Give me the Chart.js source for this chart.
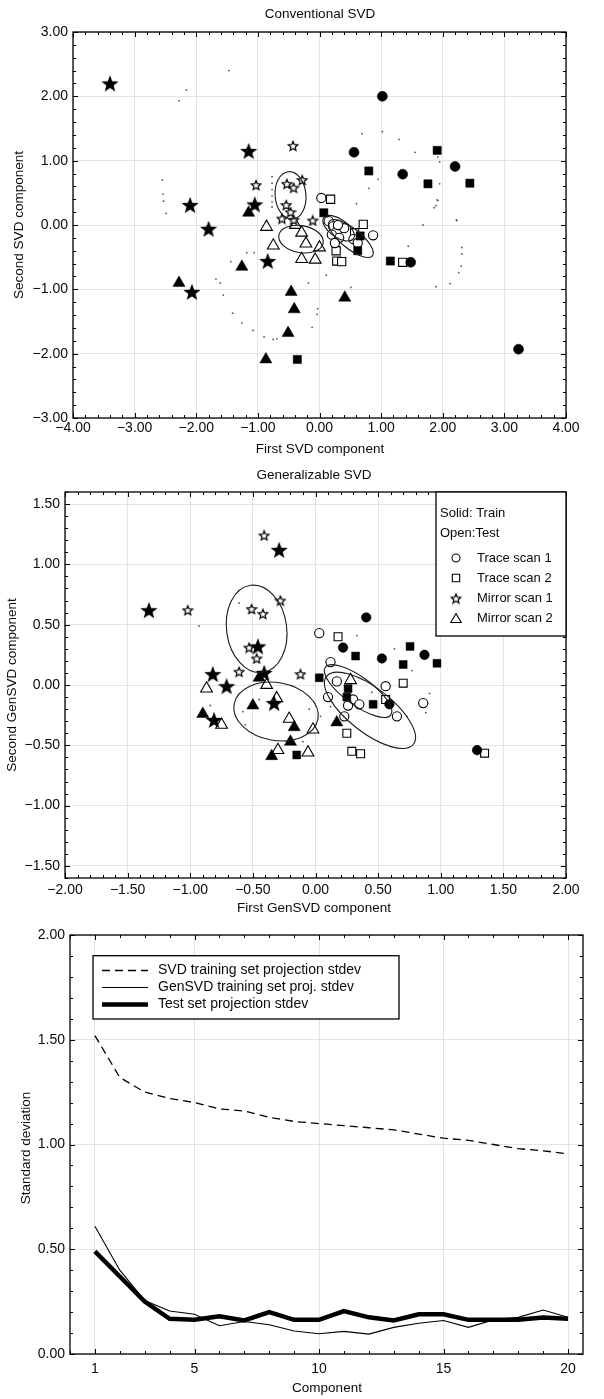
<!DOCTYPE html>
<html><head><meta charset="utf-8">
<script src="https://cdn.jsdelivr.net/npm/chart.js@4.4.1/dist/chart.umd.min.js"></script>
<style>
html,body{margin:0;padding:0;background:#fff;}
#wrap{position:relative;width:604px;height:1399px;overflow:hidden;background:#fff;}
canvas{position:absolute;left:0;}
</style></head><body>
<div id="wrap">
<canvas id="c1" width="604" height="460" style="top:0px"></canvas>
<canvas id="c2" width="604" height="460" style="top:460px"></canvas>
<canvas id="c3" width="604" height="479" style="top:920px"></canvas>
</div>
<script>
// ---------- Panel 1: Conventional SVD ----------
const svdTrace1Train = [[1.02,2.0],[0.56,1.13],[1.35,0.79],[2.2,0.91],[1.48,-0.58],[3.23,-1.93]];
const svdTrace2Train = [[0.80,0.84],[1.91,1.16],[1.76,0.64],[2.44,0.65],[0.07,0.19],[-0.36,-2.09],[1.15,-0.56],[0.66,-0.17],[0.62,-0.40]];
const svdMirror1Train = [[-3.4,2.2],[-1.15,1.15],[-2.1,0.31],[-1.05,0.32],[-1.8,-0.06],[-0.84,-0.56],[-2.07,-1.04]];
const svdMirror2Train = [[-1.15,0.19],[-1.26,-0.65],[-2.28,-0.90],[-0.46,-1.04],[-0.41,-1.31],[-0.51,-1.68],[-0.87,-2.09],[0.41,-1.13]];
const svdTrace1Test = [[0.03,0.42],[0.15,0.06],[0.22,-0.02],[0.28,-0.10],[0.20,-0.15],[0.32,-0.20],[0.25,-0.28],[0.40,-0.05],[0.55,-0.22],[0.62,-0.28],[0.87,-0.16],[0.30,0.0]];
const svdTrace2Test = [[0.18,0.40],[0.71,0.01],[0.57,-0.12],[0.28,-0.56],[0.36,-0.57],[1.35,-0.58],[0.27,-0.40]];
const svdMirror1Test = [[-0.43,1.23],[-1.03,0.62],[-0.53,0.64],[-0.42,0.58],[-0.28,0.70],[-0.54,0.31],[-0.47,0.20],[-0.61,0.10],[-0.11,0.07],[-0.42,0.08]];
const svdMirror2Test = [[-0.86,-0.03],[-0.39,0.0],[-0.29,-0.12],[-0.22,-0.29],[-0.75,-0.32],[0.0,-0.35],[-0.29,-0.53],[-0.07,-0.54]];
const svdDots = [[-1.47,2.40],[-2.16,2.10],[-2.28,1.93],[-2.55,0.70],[-2.54,0.48],[-2.53,0.37],[-2.49,0.18],
  [0.69,1.42],[1.02,1.45],[1.29,1.33],[1.55,1.13],[1.92,1.06],[1.95,0.98],[1.95,0.64],[1.92,0.38],[1.86,0.27],
  [2.23,0.07],[1.68,0.0],[0.80,0.57],[0.95,0.71],[0.60,0.33],[-0.77,0.75],[-0.77,0.65],[-0.77,0.55],[-0.77,0.45],[-0.77,0.36],[-0.77,0.28],
  [-1.68,-0.84],[-1.61,-0.90],[-1.56,-1.09],[-1.41,-1.37],[-1.26,-1.52],[-1.08,-1.64],[-0.90,-1.74],[-0.75,-1.78],[-0.69,-1.77],
  [-0.18,-0.90],[0.11,-0.78],[-0.03,-1.30],[-0.04,-1.39],[-0.12,-1.59],[0.51,-0.97],[1.89,-0.96],[2.12,-0.91],[2.26,-0.74],[2.30,-0.64],
  [2.31,-0.35],[2.31,-0.45],[2.22,0.08],[1.44,-0.33],[1.89,0.30],[1.91,0.39],[-1.06,-0.43],[-1.18,-0.43],[-1.44,-0.57]];
// ellipses: centre x, centre y, semi-axis (x units), semi-axis (y units), rotation deg
const svdEllipses = [[-0.47,0.46,0.25,0.37,-5],[-0.30,-0.22,0.365,0.21,10],[0.31,-0.05,0.296,0.14,35],[0.51,-0.21,0.447,0.155,39]];
const svdXTicks = [-4,-3,-2,-1,0,1,2,3,4];
const svdYTicks = [-3,-2,-1,0,1,2,3];

// ---------- Panel 2: Generalizable SVD ----------
const genTrace1Train = [[0.405,0.56],[0.22,0.31],[0.53,0.22],[0.87,0.25],[0.59,-0.16],[1.29,-0.54]];
const genTrace2Train = [[0.32,0.24],[0.755,0.32],[0.70,0.17],[0.97,0.18],[0.03,0.06],[0.26,-0.03],[0.25,-0.10],[0.46,-0.16],[-0.15,-0.58]];
const genMirror1Train = [[-1.33,0.62],[-0.29,1.12],[-0.46,0.32],[-0.82,0.09],[-0.71,-0.01],[-0.33,-0.15],[-0.81,-0.29],[-0.41,0.10]];
const genMirror2Train = [[-0.45,0.06],[-0.50,-0.17],[-0.90,-0.24],[-0.17,-0.35],[-0.20,-0.47],[-0.35,-0.59],[0.17,-0.31]];
const genTrace1Test = [[0.03,0.43],[0.12,0.19],[0.17,0.03],[0.10,-0.10],[0.30,-0.12],[0.35,-0.16],[0.26,-0.17],[0.56,-0.01],[0.86,-0.15],[0.65,-0.26],[0.23,-0.26]];
const genTrace2Test = [[0.18,0.40],[0.70,0.015],[0.56,-0.12],[0.25,-0.40],[0.29,-0.55],[0.36,-0.57],[1.35,-0.565]];
const genMirror1Test = [[-0.41,1.24],[-1.02,0.62],[-0.51,0.63],[-0.42,0.59],[-0.28,0.70],[-0.53,0.31],[-0.47,0.22],[-0.61,0.11],[-0.12,0.09]];
const genMirror2Test = [[-0.87,-0.03],[-0.39,0.0],[-0.31,-0.11],[-0.21,-0.28],[-0.75,-0.33],[-0.02,-0.37],[-0.30,-0.54],[-0.06,-0.56],[0.28,0.04]];
const genDots = [[-0.61,0.68],[-0.93,0.49],[0.33,0.41],[0.63,0.30],[0.77,0.12],[0.91,-0.07],[0.88,-0.23],[0.73,-0.26],[0.04,-0.26],
  [-0.10,-0.47],[-0.84,-0.17],[-0.58,-0.22],[-0.45,-0.12],[-0.56,-0.33],[0.45,-0.06],[0.12,-0.18],[-0.05,-0.20]];
const genEllipses = [[-0.47,0.465,0.24,0.365,-8],[-0.315,-0.22,0.34,0.24,10],[0.34,-0.05,0.323,0.116,36],[0.435,-0.21,0.44,0.183,38]];
const genXTicks = [-2,-1.5,-1,-0.5,0,0.5,1,1.5,2];
const genYTicks = [-1.5,-1,-0.5,0,0.5,1,1.5];

// ---------- Panel 3: Standard deviation ----------
const components = [1,2,3,4,5,6,7,8,9,10,11,12,13,14,15,16,17,18,19,20];
const svdTrainStd = [1.52,1.32,1.25,1.22,1.20,1.17,1.16,1.13,1.11,1.10,1.09,1.08,1.07,1.05,1.03,1.02,1.00,0.98,0.97,0.955];
const genTrainStd = [0.61,0.40,0.255,0.205,0.19,0.135,0.155,0.14,0.11,0.097,0.108,0.095,0.127,0.147,0.16,0.127,0.163,0.175,0.21,0.175];
const testStd = [0.49,0.37,0.25,0.168,0.163,0.18,0.16,0.20,0.163,0.163,0.205,0.175,0.16,0.19,0.19,0.163,0.163,0.163,0.174,0.168];
const stdXTicks = [1,5,10,15,20];
const stdYTicks = [0,0.5,1,1.5,2];

// ---------- helpers ----------
const FONT = '"Liberation Sans", Arial, Helvetica, sans-serif';
const TXT = '#0a0a0a';
const toXY = a => a.map(p => ({x:p[0], y:p[1]}));
const fmt2 = v => (v < 0 ? '\u2212' : '') + Math.abs(v).toFixed(2);

function starCanvas(size, filled){
  const c = document.createElement('canvas'); c.width = size; c.height = size;
  const g = c.getContext('2d'); const cx = size/2, cy = size/2 + size*0.04;
  const R = size/2 - 1, r = R*(filled ? 0.42 : 0.45);
  g.beginPath();
  for (let i = 0; i < 10; i++){
    const a = -Math.PI/2 + i*Math.PI/5, rad = i%2 ? r : R;
    g.lineTo(cx + rad*Math.cos(a), cy + rad*Math.sin(a));
  }
  g.closePath();
  if (filled){ g.fillStyle = '#000'; g.fill(); }
  else { g.fillStyle = '#fff'; g.fill(); g.lineWidth = 1.2; g.strokeStyle = '#000'; g.stroke(); }
  return c;
}
const bigStar = starCanvas(20, true);
const smallStar = starCanvas(12, false);
const legendStar = starCanvas(12, false);

function pts(data, style, radius, filled){
  return { data: toXY(data), pointStyle: style, pointRadius: radius, pointHoverRadius: radius,
    pointBackgroundColor: filled ? '#000' : '#fff', pointBorderColor: '#000', pointBorderWidth: filled ? 0.5 : 1.1, showLine: false };
}

function tickSet(values){ return function(scale){ scale.ticks = values.map(v => ({value: v})); }; }

function panelPlugin(cfg){
  return {
    id: 'panel' + cfg.key,
    afterDatasetsDraw(chart){
      if (!cfg.ellipses) return;
      const ctx = chart.ctx, xs = chart.scales.x, ys = chart.scales.y, ca = chart.chartArea;
      const ux = Math.abs(xs.getPixelForValue(1) - xs.getPixelForValue(0));
      const uy = Math.abs(ys.getPixelForValue(1) - ys.getPixelForValue(0));
      ctx.save(); ctx.beginPath(); ctx.rect(ca.left, ca.top, ca.right-ca.left, ca.bottom-ca.top); ctx.clip();
      ctx.strokeStyle = '#1a1a1a'; ctx.lineWidth = 1.1;
      cfg.ellipses.forEach(e => {
        ctx.beginPath();
        ctx.ellipse(xs.getPixelForValue(e[0]), ys.getPixelForValue(e[1]), e[2]*ux, e[3]*uy, e[4]*Math.PI/180, 0, Math.PI*2);
        ctx.stroke();
      });
      ctx.restore();
    },
    afterDraw(chart){
      const ctx = chart.ctx, xs = chart.scales.x, ys = chart.scales.y, ca = chart.chartArea;
      ctx.save();
      ctx.strokeStyle = '#000'; ctx.lineWidth = 1;
      const eps = 1e-6;
      for (let v = xs.min; v <= xs.max + eps; v += cfg.xMinor){
        const vv = Math.round(v*1000)/1000;
        const major = cfg.xMajorSet.some(m => Math.abs(m - vv) < eps);
        const L = major ? 5 : 3; const p = Math.round(xs.getPixelForValue(vv)) + 0.5;
        ctx.beginPath(); ctx.moveTo(p, ca.bottom); ctx.lineTo(p, ca.bottom - L);
        ctx.moveTo(p, ca.top); ctx.lineTo(p, ca.top + L); ctx.stroke();
      }
      for (let v = ys.min; v <= ys.max + eps; v += cfg.yMinor){
        const vv = Math.round(v*1000)/1000;
        const major = cfg.yMajorSet.some(m => Math.abs(m - vv) < eps);
        const L = major ? 5 : 3; const p = Math.round(ys.getPixelForValue(vv)) + 0.5;
        ctx.beginPath(); ctx.moveTo(ca.left, p); ctx.lineTo(ca.left + L, p);
        ctx.moveTo(ca.right, p); ctx.lineTo(ca.right - L, p); ctx.stroke();
      }
      ctx.lineWidth = 1.3; ctx.strokeStyle = '#000';
      ctx.strokeRect(ca.left, ca.top, ca.right - ca.left, ca.bottom - ca.top);
      ctx.fillStyle = TXT; ctx.textAlign = 'center'; ctx.textBaseline = 'middle';
      ctx.font = '13.5px ' + FONT;
      if (cfg.title) ctx.fillText(cfg.title, cfg.titlePos[0], cfg.titlePos[1]);
      ctx.fillText(cfg.xTitle, cfg.xTitlePos[0], cfg.xTitlePos[1]);
      ctx.save(); ctx.translate(cfg.yTitlePos[0], cfg.yTitlePos[1]); ctx.rotate(-Math.PI/2);
      ctx.fillText(cfg.yTitle, 0, 0); ctx.restore();
      if (cfg.legend) cfg.legend(ctx, chart);
      ctx.restore();
    }
  };
}

// p.box = [left, right, top, bottom] of plot area inside a canvas of height p.H
function scatterOptions(p){
  const [L, R, T, B] = p.box;
  return {
    responsive: false, animation: false, events: [],
    layout: { padding: {left: 0, right: 604 - R, top: T, bottom: 0} },
    plugins: { legend: {display:false}, tooltip: {enabled:false}, title: {display:false} },
    scales: {
      x: { type: 'linear', min: p.xmin, max: p.xmax,
        afterBuildTicks: tickSet(p.xticks), afterFit: s => { s.height = p.H - B; },
        grid: { color: '#e4e4e4', lineWidth: 1, drawTicks: false },
        border: { display: false },
        ticks: { padding: p.xpad, color: TXT, font: {family: FONT, size: 14}, maxRotation: 0, autoSkip: false, callback: p.xfmt } },
      y: { type: 'linear', min: p.ymin, max: p.ymax,
        afterBuildTicks: tickSet(p.yticks), afterFit: s => { s.width = L; },
        grid: { color: '#e4e4e4', lineWidth: 1, drawTicks: false },
        border: { display: false },
        ticks: { padding: 5, color: TXT, font: {family: FONT, size: 14}, autoSkip: false, callback: p.yfmt } }
    }
  };
}

// ---------- Chart 1 ----------
new Chart(document.getElementById('c1'), {
  type: 'scatter',
  data: { datasets: [
    pts(svdMirror1Train, bigStar, 9, true),
    pts(svdTrace1Train, 'circle', 5, true),
    pts(svdTrace2Train, 'rect', 5.8, true),
    pts(svdMirror2Train, 'triangle', 7, true),
    pts(svdMirror1Test, smallStar, 6, false),
    pts(svdMirror2Test, 'triangle', 6.8, false),
    pts(svdTrace1Test, 'circle', 4.6, false),
    pts(svdTrace2Test, 'rect', 5.8, false),
    { data: toXY(svdDots), pointRadius: 0.9, pointBackgroundColor: '#555', pointBorderWidth: 0, showLine: false }
  ]},
  options: scatterOptions({ box: [73, 566, 32, 418], H: 460, xmin:-4, xmax:4, ymin:-3, ymax:3,
    xticks: svdXTicks, yticks: svdYTicks, xpad: 2, xfmt: fmt2, yfmt: fmt2 }),
  plugins: [panelPlugin({ key: 1, ellipses: svdEllipses, xMinor: 0.2, yMinor: 0.2, xMajorSet: svdXTicks, yMajorSet: svdYTicks,
    title: 'Conventional SVD', titlePos: [320, 14], xTitle: 'First SVD component', xTitlePos: [320, 449],
    yTitle: 'Second SVD component', yTitlePos: [19, 225] })]
});

// ---------- Chart 2 ----------
function genLegend(ctx, chart){
  const L = 436, T = chart.chartArea.top, R = chart.chartArea.right, B = 176;
  ctx.fillStyle = '#fff'; ctx.fillRect(L, T, R - L, B - T);
  ctx.lineWidth = 1.3; ctx.strokeStyle = '#000'; ctx.strokeRect(L, T, R - L, B - T);
  ctx.fillStyle = TXT; ctx.textAlign = 'left'; ctx.textBaseline = 'middle'; ctx.font = '13px ' + FONT;
  ctx.fillText('Solid: Train', 440, 53);
  ctx.fillText('Open:Test', 440, 73);
  const rows = [[98, 'circle', 'Trace scan 1'], [118, 'rect', 'Trace scan 2'], [138.5, 'star', 'Mirror scan 1'], [158.5, 'triangle', 'Mirror scan 2']];
  rows.forEach(r => {
    const x = 456, y = r[0];
    ctx.lineWidth = 1.1; ctx.strokeStyle = '#000'; ctx.fillStyle = '#fff';
    if (r[1] === 'star') ctx.drawImage(legendStar, x - 6, y - 6);
    else Chart.helpers.drawPoint(ctx, {pointStyle: r[1], radius: r[1] === 'triangle' ? 6 : (r[1] === 'rect' ? 5.2 : 4), borderWidth: 1.1, rotation: 0}, x, y + (r[1]==='triangle'?1:0));
    ctx.fillStyle = TXT; ctx.fillText(r[2], 477, y);
  });
}
new Chart(document.getElementById('c2'), {
  type: 'scatter',
  data: { datasets: [
    pts(genMirror1Train, bigStar, 9, true),
    pts(genTrace1Train, 'circle', 4.8, true),
    pts(genTrace2Train, 'rect', 5.6, true),
    pts(genMirror2Train, 'triangle', 7, true),
    pts(genMirror1Test, smallStar, 6, false),
    pts(genMirror2Test, 'triangle', 6.8, false),
    pts(genTrace1Test, 'circle', 4.6, false),
    pts(genTrace2Test, 'rect', 5.6, false),
    { data: toXY(genDots), pointRadius: 0.9, pointBackgroundColor: '#555', pointBorderWidth: 0, showLine: false }
  ]},
  options: scatterOptions({ box: [65, 566, 32, 418], H: 460, xmin:-2, xmax:2, ymin:-1.6, ymax:1.6,
    xticks: genXTicks, yticks: genYTicks, xpad: 4, xfmt: fmt2, yfmt: fmt2 }),
  plugins: [panelPlugin({ key: 2, ellipses: genEllipses, xMinor: 0.1, yMinor: 0.1, xMajorSet: genXTicks, yMajorSet: genYTicks,
    title: 'Generalizable SVD', titlePos: [314, 15], xTitle: 'First GenSVD component', xTitlePos: [314, 448],
    yTitle: 'Second GenSVD component', yTitlePos: [12, 225], legend: genLegend })]
});

// ---------- Chart 3 ----------
function stdLegend(ctx){
  const L = 93, T = 35.7, R = 399, B = 99;
  ctx.fillStyle = '#fff'; ctx.fillRect(L, T, R - L, B - T);
  ctx.lineWidth = 1.3; ctx.strokeStyle = '#000'; ctx.strokeRect(L, T, R - L, B - T);
  const rows = [[50.5, [8,5], 1.3, 'SVD training set projection stdev'], [67.5, [], 1.2, 'GenSVD training set proj. stdev'], [84.5, [], 4.5, 'Test set projection stdev']];
  ctx.textAlign = 'left'; ctx.textBaseline = 'middle'; ctx.font = '14px ' + FONT;
  rows.forEach(r => {
    ctx.beginPath(); ctx.setLineDash(r[1]); ctx.lineWidth = r[2]; ctx.strokeStyle = '#000';
    ctx.moveTo(102, r[0]); ctx.lineTo(148, r[0]); ctx.stroke(); ctx.setLineDash([]);
    ctx.fillStyle = TXT; ctx.fillText(r[3], 158, r[0]);
  });
}
const line = (vals, w, dash) => ({ data: components.map((c, i) => ({x: c, y: vals[i]})), showLine: true, borderColor: '#000',
  borderWidth: w, borderDash: dash, pointRadius: 0, tension: 0, fill: false, borderJoinStyle: 'miter' });
new Chart(document.getElementById('c3'), {
  type: 'scatter',
  data: { datasets: [ line(testStd, 4.5, []), line(genTrainStd, 1.1, []), line(svdTrainStd, 1.3, [8,5]) ] },
  options: scatterOptions({ box: [70, 583, 15, 434], H: 479, xmin:0, xmax:20.6, ymin:0, ymax:2,
    xticks: stdXTicks, yticks: stdYTicks, xpad: 7, xfmt: v => String(v), yfmt: fmt2 }),
  plugins: [panelPlugin({ key: 3, xMinor: 1, yMinor: 0.1, xMajorSet: stdXTicks, yMajorSet: stdYTicks,
    xTitle: 'Component', xTitlePos: [327, 468], yTitle: 'Standard deviation', yTitlePos: [26, 228], legend: stdLegend })]
});
</script>
</body></html>
